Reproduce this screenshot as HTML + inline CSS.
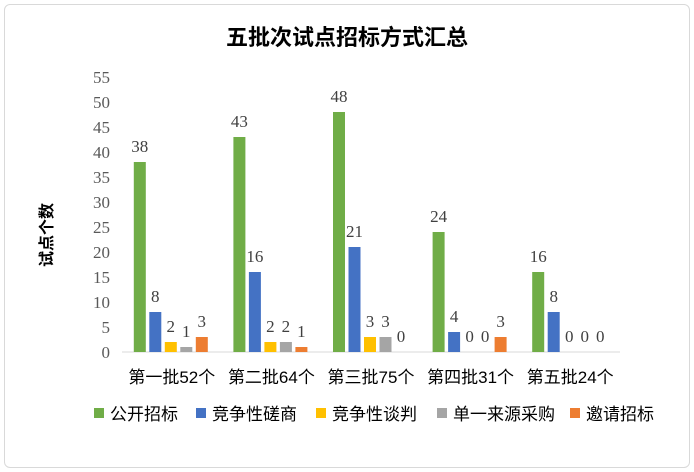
<!DOCTYPE html>
<html><head><meta charset="utf-8"><style>
body{margin:0;background:#fff;}
#wrap{position:relative;width:694px;height:472px;overflow:hidden;font-family:"Liberation Sans","Noto Sans CJK SC",sans-serif;}
#frame{position:absolute;left:4px;top:4px;width:684px;height:462px;border:1px solid #d9d9d9;border-radius:6px;}
</style></head><body>
<div id="wrap">
<div id="frame"></div>
<svg id="svg" width="694" height="472" style="position:absolute;left:0;top:0">
<text x="347" y="45" text-anchor="middle" font-size="22" font-weight="bold" font-family="'Liberation Sans','Noto Sans CJK SC',sans-serif" fill="#000">五批次试点招标方式汇总</text>
<text transform="translate(52,235) rotate(-90)" text-anchor="middle" font-size="16" font-weight="bold" font-family="'Liberation Sans','Noto Sans CJK SC',sans-serif">试点个数</text>
<g id="axis"></g><g id="bars"></g><g id="legend"></g>
</svg>
</div>
<script>
const categories=["第一批52个","第二批64个","第三批75个","第四批31个","第五批24个"];
const seriesNames=["公开招标","竞争性磋商","竞争性谈判","单一来源采购","邀请招标"];
const gongkai=[38,43,48,24,16];
const cuoshang=[8,16,21,4,8];
const tanpan=[2,2,3,0,0];
const danyi=[1,2,3,0,0];
const yaoqing=[3,1,0,3,0];
const yTicks=[0,5,10,15,20,25,30,35,40,45,50,55];
const colors=["#70ad47","#4472c4","#ffc000","#a5a5a5","#ed7d31"];
const series=[gongkai,cuoshang,tanpan,danyi,yaoqing];
const NS="http://www.w3.org/2000/svg";
const x0=122,x1=620,y0=352,yTop=77,yMax=55;
const y=v=>y0-(v/yMax)*(y0-yTop);
const gw=(x1-x0)/categories.length;
const serif="'Liberation Serif','Noto Serif CJK SC',serif";
function mk(tag,attrs,parent,txt){const e=document.createElementNS(NS,tag);for(const k in attrs)e.setAttribute(k,attrs[k]);if(txt!==undefined)e.textContent=txt;parent.appendChild(e);return e;}
const ax=document.getElementById('axis'),bg=document.getElementById('bars'),lg=document.getElementById('legend');
yTicks.forEach(t=>{const e=mk('text',{x:110,y:y(t)+6,'text-anchor':'end','font-size':17,'font-family':serif,fill:'#595959'},ax,t);

});
const base=mk('line',{x1:x0,x2:x1,y1:y0,y2:y0,stroke:'#d9d9d9','stroke-width':1},ax);


categories.forEach((c,i)=>{const cx=x0+gw*(i+0.5);
const e=mk('text',{x:cx,y:383,'text-anchor':'middle','font-size':17,'font-family':"'Liberation Sans','Noto Sans CJK SC',sans-serif",fill:'#000'},ax,c);


series.forEach((s,j)=>{const bw=12,step=15.5;const bx=cx-2*step-bw/2+j*step-1;const v=s[i];
const r=mk('rect',{x:bx,y:y(v),width:bw,height:y0-y(v),fill:colors[j]},bg);


const t=mk('text',{x:bx+bw/2,y:y(v)-10,'text-anchor':'middle','font-size':17,'font-family':serif,fill:'#404040'},bg,v);

});});
const lx=[94,196,316,437,570];
seriesNames.forEach((n,j)=>{const g=mk('g',{},lg);


mk('rect',{x:lx[j],y:408,width:10,height:10,fill:colors[j]},g);
mk('text',{x:lx[j]+16,y:420,'font-size':17,'font-family':"'Liberation Sans','Noto Sans CJK SC',sans-serif",fill:'#000'},g,n);});
</script>
</body></html>
